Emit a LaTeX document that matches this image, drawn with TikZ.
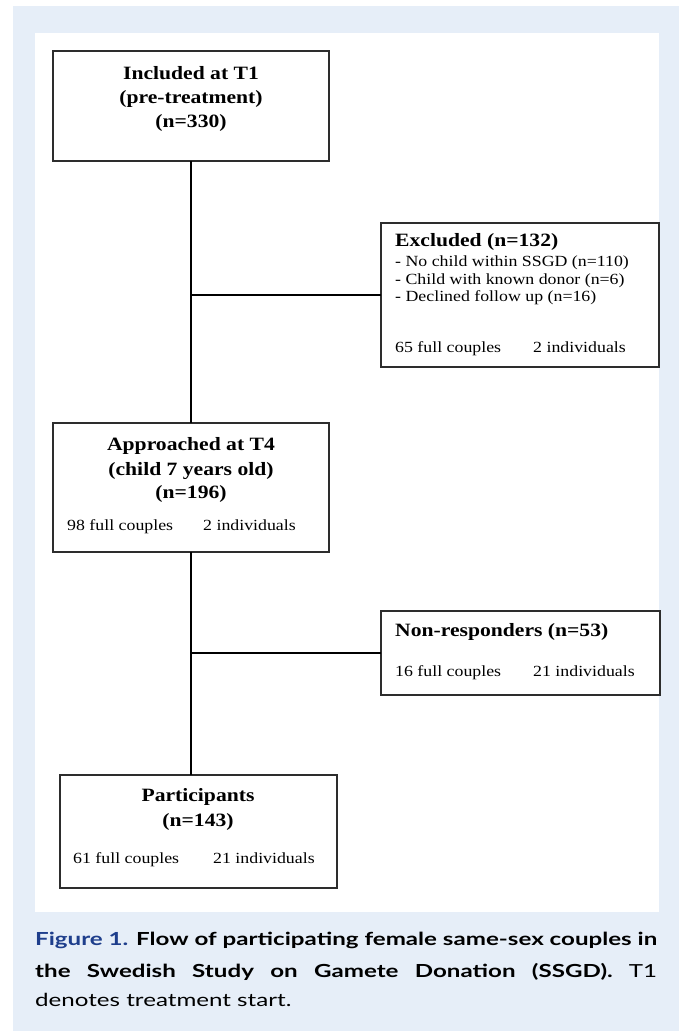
\documentclass[tikz,border=0pt]{standalone}
\usepackage{fontspec}
\setmainfont{Liberation Serif}
\newfontfamily\capfont{Lato}
\usepackage{graphicx}
\definecolor{bgblue}{RGB}{230,238,248}
\definecolor{capblue}{RGB}{30,62,140}
\definecolor{boxgrey}{RGB}{45,45,45}
\newcommand\hs[1]{\scalebox{1.15}[1]{#1}}
\newsavebox\capA
\begin{document}
\sbox\capA{\capfont\fontsize{18}{21}\selectfont\bfseries{\color{capblue}Figure 1.} Flow of participating female same-sex couples in}%
\pgfmathsetmacro\capscale{622/\the\wd\capA}%
\begin{tikzpicture}[x=1pt,y=-1pt,
 box/.style={draw=boxgrey,line width=1.3pt,inner sep=0pt,outer sep=0pt,anchor=north west,rectangle},
 link/.style={draw=black,line width=1.5pt},
 bt/.style={inner sep=0pt,yshift=-2pt,font=\fontsize{18.8}{22}\selectfont\bfseries},
 rt/.style={inner sep=0pt,yshift=-1.5pt,font=\fontsize{15.5}{18}\selectfont},
 ct/.style={inner sep=0pt,anchor=mid west,font=\capfont\fontsize{18}{21}\selectfont}
]
\useasboundingbox (0,0) rectangle (679,1031);
\fill[bgblue] (13,6) rectangle (679,1031);
\fill[white] (35,33) rectangle (659,912);

% boxes
\node[box,minimum width=276pt,minimum height=110pt] (inc) at (53,51) {};
\node[box,minimum width=278pt,minimum height=144pt] (exc) at (381,223) {};
\node[box,minimum width=276pt,minimum height=129pt] (app) at (53,423) {};
\node[box,minimum width=279pt,minimum height=84pt] (non) at (381,611) {};
\node[box,minimum width=277pt,minimum height=113pt] (par) at (60,775) {};

% connectors
\draw[link] (inc.south) -- (app.north);
\draw[link] (app.south) -- (app.south |- par.north);
\draw[link] (exc.west) -- (exc.west -| inc.south);
\draw[link] (non.west) -- (non.west -| app.south);

% texts: included
\node[bt,anchor=mid] (t1a) at (191,75) {\hs{Included at T1}};
\node[bt,anchor=mid] (t1b) at (191,99) {\hs{(pre-treatment)}};
\node[bt,anchor=mid] (t1c) at (191,123) {\hs{(n=330)}};

% excluded
\node[bt,anchor=mid west] (e1) at (395,242) {\hs{Excluded (n=132)}};
\node[rt,anchor=mid west] (e2) at (395,263) {\hs{- No child within SSGD (n=110)}};
\node[rt,anchor=mid west] (e3) at (395,281) {\hs{- Child with known donor (n=6)}};
\node[rt,anchor=mid west] (e4) at (395,298) {\hs{- Declined follow up (n=16)}};
\node[rt,anchor=mid west] (e5) at (395,349) {\hs{65 full couples}};
\node[rt,anchor=mid west] (e6) at (533,349) {\hs{2 individuals}};

% approached
\node[bt,anchor=mid] (a1) at (191,446) {\hs{Approached at T4}};
\node[bt,anchor=mid] (a2) at (191,471) {\hs{(child 7 years old)}};
\node[bt,anchor=mid] (a3) at (191,494) {\hs{(n=196)}};
\node[rt,anchor=mid west] (a4) at (67,527) {\hs{98 full couples}};
\node[rt,anchor=mid west] (a5) at (203,527) {\hs{2 individuals}};

% non-responders
\node[bt,anchor=mid west] (n1) at (395,632) {\hs{Non-responders (n=53)}};
\node[rt,anchor=mid west] (n2) at (395,673) {\hs{16 full couples}};
\node[rt,anchor=mid west] (n3) at (533,673) {\hs{21 individuals}};

% participants
\node[bt,anchor=mid] (p1) at (198,797) {\hs{Participants}};
\node[bt,anchor=mid] (p2) at (198,822) {\hs{(n=143)}};
\node[rt,anchor=mid west] (p3) at (73,860) {\hs{61 full couples}};
\node[rt,anchor=mid west] (p4) at (213,860) {\hs{21 individuals}};

% caption
\node[ct] (c1) at (35,943) {\scalebox{\capscale}[1]{\usebox\capA}};
\node[ct] (c2) at (35,975) {\scalebox{\capscale}[1]{\makebox[\wd\capA][s]{\bfseries the Swedish Study on Gamete Donation (SSGD). \mdseries T1}}};
\node[ct] (c3) at (35,1004) {\scalebox{\capscale}[1]{denotes treatment start.}};
\end{tikzpicture}
\end{document}
